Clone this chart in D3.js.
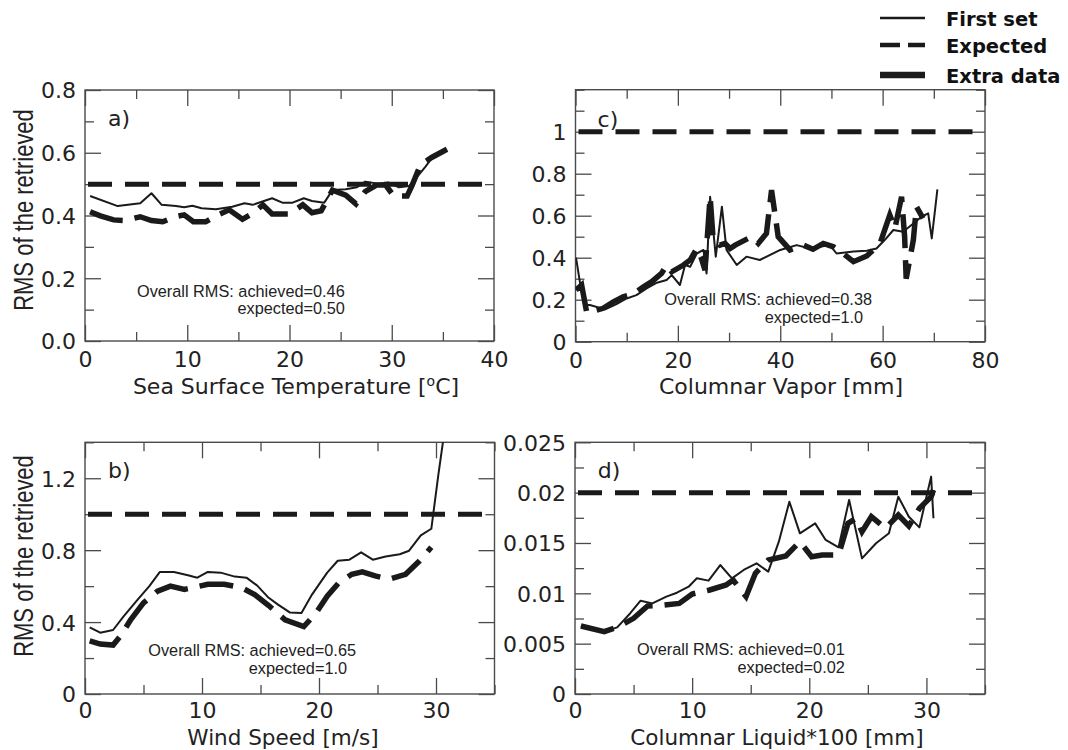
<!DOCTYPE html>
<html><head><meta charset="utf-8">
<script src="https://cdn.jsdelivr.net/npm/d3@7"></script>
<style>
body{margin:0;background:#fff;}
svg{display:block;}
</style></head><body>
<svg id="chart" width="1068" height="750"></svg>
<script>
// ---------------- DATA ----------------
const seriesNames = ["First set", "Expected", "Extra data"];
const panelLabels = ["a)", "b)", "c)", "d)"];
const xTitles = ["Sea Surface Temperature [", "Wind Speed [m/s]", "Columnar Vapor [mm]", "Columnar Liquid*100 [mm]"];
const yTitle = "RMS of the retrieved";
const achievedTexts = ["Overall RMS: achieved=0.46", "Overall RMS: achieved=0.65", "Overall RMS: achieved=0.38", "Overall RMS: achieved=0.01"];
const expectedTexts = ["expected=0.50", "expected=1.0", "expected=1.0", "expected=0.02"];
const expectedLevels = [0.5, 1.0, 1.0, 0.02];

// tick values / labels
const aXTicks = [0, 10, 20, 30, 40], aXMinor = [5, 15, 25, 35];
const aYTicks = [0, 0.2, 0.4, 0.6, 0.8], aYMinor = [0.1, 0.3, 0.5, 0.7];
const aYLabels = ["0.0", "0.2", "0.4", "0.6", "0.8"];
const bXTicks = [0, 10, 20, 30], bXMinor = [5, 15, 25, 35];
const bYTicks = [0, 0.4, 0.8, 1.2], bYMinor = [0.2, 0.6, 1.0, 1.4];
const bYLabels = ["0", "0.4", "0.8", "1.2"];
const cXTicks = [0, 20, 40, 60, 80], cXMinor = [10, 30, 50, 70];
const cYTicks = [0, 0.2, 0.4, 0.6, 0.8, 1.0], cYMinor = [0.1, 0.3, 0.5, 0.7, 0.9, 1.1, 1.2];
const cYLabels = ["0", "0.2", "0.4", "0.6", "0.8", "1"];
const dXTicks = [0, 10, 20, 30], dXMinor = [5, 15, 25, 35];
const dYTicks = [0, 0.005, 0.01, 0.015, 0.02, 0.025], dYMinor = [0.0025, 0.0075, 0.0125, 0.0175, 0.0225];
const dYLabels = ["0", "0.005", "0.01", "0.015", "0.02", "0.025"];

// panel a: sea surface temperature
const aFirstX = [0.5,3.2,5.4,6.5,7.5,8.9,9.7,10.5,11.4,12.8,14.4,15.6,16.4,18.3,19.3,20.3,21.4,22.2,23.4,24.2,25.5,26.6,27.4,28.7,29.7,30.7,31.7,32.5,33.3,33.9,35.4];
const aFirstY = [0.462,0.430,0.439,0.471,0.434,0.430,0.426,0.431,0.423,0.420,0.428,0.439,0.434,0.455,0.441,0.441,0.455,0.446,0.441,0.481,0.484,0.490,0.508,0.501,0.505,0.490,0.494,0.524,0.556,0.582,0.611];
const aExtraX = [0.5,1.5,2.8,3.9,5.4,6.5,7.6,8.8,9.7,10.6,11.8,13.0,14.1,15.4,16.4,17.4,18.3,20.0,21.3,22.2,23.1,24.2,25.5,26.5,27.4,28.5,29.4,30.2,31.5,32.0,32.8,33.9,35.4];
const aExtraY = [0.412,0.399,0.386,0.384,0.396,0.384,0.380,0.396,0.402,0.380,0.380,0.402,0.418,0.388,0.407,0.434,0.405,0.405,0.434,0.409,0.415,0.481,0.465,0.437,0.476,0.497,0.497,0.462,0.462,0.497,0.561,0.585,0.611];

// panel b: wind speed
const bFirstX = [0.4,1.3,2.4,3.3,4.5,5.5,6.4,7.6,8.8,9.6,10.5,11.6,12.8,13.8,14.7,15.7,16.5,17.5,18.5,19.4,20.7,21.6,22.6,23.6,24.6,25.7,26.9,27.7,28.7,29.6,30.2,30.7];
const bFirstY = [0.371,0.341,0.356,0.432,0.525,0.600,0.679,0.679,0.660,0.647,0.679,0.675,0.653,0.647,0.604,0.535,0.497,0.454,0.450,0.553,0.675,0.741,0.747,0.788,0.747,0.765,0.777,0.797,0.882,0.919,1.219,1.45];
const bExtraX = [0.4,1.3,2.4,3.1,3.9,5.0,6.2,7.3,8.5,9.6,10.5,11.9,13.4,14.5,15.7,17.1,18.7,19.7,20.7,21.7,22.8,23.7,24.8,26.0,27.4,28.6,29.6];
const bExtraY = [0.296,0.278,0.272,0.328,0.413,0.507,0.572,0.600,0.582,0.597,0.610,0.610,0.591,0.553,0.492,0.413,0.375,0.446,0.544,0.619,0.666,0.679,0.657,0.638,0.666,0.741,0.816];

// panel c: columnar vapor
const cFirstX = [0.1,0.9,1.7,2.8,5.8,8.0,10.0,11.9,13.9,15.9,17.8,18.8,20.4,21.4,22.4,23.7,25.0,25.6,26.3,27.4,28.6,29.5,31.5,33.4,36.0,40.0,43.2,45.8,49.7,51.0,54.3,56.9,58.8,60.4,62.1,64.0,66.0,67.6,68.9,69.6,70.7];
const cFirstY = [0.40,0.278,0.175,0.175,0.154,0.179,0.206,0.222,0.254,0.281,0.294,0.317,0.270,0.365,0.357,0.42,0.437,0.325,0.69,0.405,0.643,0.437,0.365,0.405,0.389,0.437,0.46,0.444,0.46,0.42,0.429,0.433,0.444,0.484,0.532,0.524,0.563,0.595,0.611,0.492,0.725];
const cExtraX = [0.1,1.2,2.2,5.4,7.4,9.3,11.3,13.3,14.9,16.8,17.8,18.8,21.1,22.4,23.7,24.6,25.3,26.3,26.9,28.2,29.2,30.2,31.2,34.4,35.7,37.3,38.3,39.6,41.9,44.5,46.4,48.4,50.4,52.3,54.3,56.9,59.5,61.4,62.4,63.7,64.3,64.6,66.0,66.6,67.9];
const cExtraY = [0.246,0.27,0.138,0.159,0.19,0.214,0.227,0.262,0.286,0.325,0.365,0.333,0.365,0.389,0.444,0.397,0.341,0.69,0.484,0.46,0.468,0.444,0.46,0.5,0.468,0.516,0.722,0.5,0.437,0.46,0.44,0.468,0.452,0.42,0.381,0.408,0.468,0.603,0.54,0.69,0.5,0.30,0.484,0.643,0.587];

// panel d: columnar liquid
const dFirstX = [0.5,2.5,3.6,4.7,5.6,6.6,7.8,8.7,9.7,10.4,11.4,12.4,13.4,14.4,15.5,16.5,17.4,18.3,19.2,20.5,21.4,22.5,23.4,24.5,25.7,26.8,27.6,28.5,29.4,30.4,30.6];
const dFirstY = [0.00675,0.0062,0.00662,0.008,0.00927,0.009,0.00967,0.01006,0.01066,0.01149,0.01126,0.01281,0.01149,0.01232,0.01298,0.01215,0.01513,0.0191,0.01596,0.01695,0.0153,0.01457,0.01927,0.01347,0.01497,0.01596,0.0196,0.01761,0.01655,0.02159,0.01745];
const dExtraX = [0.5,2.5,3.6,5.0,6.2,7.6,8.9,10.0,11.5,12.9,13.5,14.6,15.4,16.5,18.0,19.2,20.2,21.1,22.5,23.3,24.0,24.5,25.3,26.5,27.6,28.5,29.4,30.4,30.6];
const dExtraY = [0.00675,0.0062,0.00662,0.00752,0.00874,0.00884,0.009,0.00993,0.01033,0.01083,0.01132,0.00967,0.01199,0.01331,0.01371,0.01513,0.01364,0.01381,0.01381,0.01695,0.01745,0.01612,0.01761,0.01645,0.01778,0.01669,0.01844,0.0196,0.02026];

// ---------------- LAYOUT ----------------
const FONT = "'DejaVu Sans', sans-serif";
const ANN_FONT = "'Liberation Sans', Arial, sans-serif";
const INK = "#1a1a1a";
const FRAME = "#4a4a4a";

const panels = [
  {id:"a", idx:0, left:85, right:494, top:90, bottom:341, xDomain:[0,40], yDomain:[0,0.8],
   xTicks:aXTicks, xMinor:aXMinor, yTicks:aYTicks, yMinor:aYMinor, yLabels:aYLabels,
   firstX:aFirstX, firstY:aFirstY, extraX:aExtraX, extraY:aExtraY,
   labelPos:[108,126], annPos:[137,296.7], titleX:296, titleY:394, titleSize:22, tickPad:10.4, yTitleY:210, superscript:true},
  {id:"b", idx:1, left:85, right:494.5, top:442.3, bottom:694, xDomain:[0,35], yDomain:[0,1.4],
   xTicks:bXTicks, xMinor:bXMinor, yTicks:bYTicks, yMinor:bYMinor, yLabels:bYLabels,
   firstX:bFirstX, firstY:bFirstY, extraX:bExtraX, extraY:bExtraY,
   labelPos:[108,478], annPos:[148.3,656], titleX:283, titleY:745, titleSize:21.5, tickPad:8.4, yTitleY:556},
  {id:"c", idx:2, left:575.5, right:985, top:89.7, bottom:341.7, xDomain:[0,80], yDomain:[0,1.2],
   xTicks:cXTicks, xMinor:cXMinor, yTicks:cYTicks, yMinor:cYMinor, yLabels:cYLabels,
   firstX:cFirstX, firstY:cFirstY, extraX:cExtraX, extraY:cExtraY,
   labelPos:[597.6,127], annPos:[664.3,305], titleX:781, titleY:394, titleSize:22, tickPad:10.4},
  {id:"d", idx:3, left:575, right:985, top:442.3, bottom:694, xDomain:[0,35], yDomain:[0,0.025],
   xTicks:dXTicks, xMinor:dXMinor, yTicks:dYTicks, yMinor:dYMinor, yLabels:dYLabels,
   firstX:dFirstX, firstY:dFirstY, extraX:dExtraX, extraY:dExtraY,
   labelPos:[597.8,478], annPos:[637,655], titleX:777, titleY:745, titleSize:21.5, tickPad:8.4}
];

const svg = d3.select("#chart");
const MAJOR = 16, MINOR = 9;

function styleAxis(sel){
  sel.select(".domain").remove();
  sel.selectAll("line").attr("stroke", FRAME).attr("stroke-width", 1.3);
  sel.selectAll("text").attr("font-family", FONT).attr("font-size", 22).attr("fill", "#222");
}

panels.forEach(p => {
  const x = d3.scaleLinear().domain(p.xDomain).range([p.left, p.right]);
  const y = d3.scaleLinear().domain(p.yDomain).range([p.bottom, p.top]);
  const g = svg.append("g").attr("class", "panel-" + p.id);

  const clipId = "clip-" + p.id;
  svg.append("clipPath").attr("id", clipId).append("rect")
    .attr("x", p.left).attr("y", p.top).attr("width", p.right - p.left).attr("height", p.bottom - p.top);

  // ticks: bottom (labelled), left (labelled), top, right
  g.append("g").attr("transform", `translate(0,${p.bottom})`)
    .call(d3.axisBottom(x).tickValues(p.xTicks).tickFormat(d => String(d)).tickSizeInner(-MAJOR).tickSizeOuter(0).tickPadding(p.tickPad))
    .call(styleAxis);
  g.append("g").attr("transform", `translate(0,${p.bottom})`)
    .call(d3.axisBottom(x).tickValues(p.xMinor).tickFormat("").tickSizeInner(-MINOR).tickSizeOuter(0))
    .call(styleAxis);
  g.append("g").attr("transform", `translate(0,${p.top})`)
    .call(d3.axisTop(x).tickValues(p.xTicks).tickFormat("").tickSizeInner(-MAJOR).tickSizeOuter(0))
    .call(styleAxis);
  g.append("g").attr("transform", `translate(0,${p.top})`)
    .call(d3.axisTop(x).tickValues(p.xMinor).tickFormat("").tickSizeInner(-MINOR).tickSizeOuter(0))
    .call(styleAxis);
  g.append("g").attr("transform", `translate(${p.left},0)`)
    .call(d3.axisLeft(y).tickValues(p.yTicks).tickFormat((d,i) => p.yLabels[i]).tickSizeInner(-MAJOR).tickSizeOuter(0).tickPadding(9))
    .call(styleAxis)
    .call(s => s.selectAll("text").attr("dy", "0.36em"));
  g.append("g").attr("transform", `translate(${p.left},0)`)
    .call(d3.axisLeft(y).tickValues(p.yMinor).tickFormat("").tickSizeInner(-MINOR).tickSizeOuter(0))
    .call(styleAxis);
  g.append("g").attr("transform", `translate(${p.right},0)`)
    .call(d3.axisRight(y).tickValues(p.yTicks).tickFormat("").tickSizeInner(-MAJOR).tickSizeOuter(0))
    .call(styleAxis);
  g.append("g").attr("transform", `translate(${p.right},0)`)
    .call(d3.axisRight(y).tickValues(p.yMinor).tickFormat("").tickSizeInner(-MINOR).tickSizeOuter(0))
    .call(styleAxis);

  // frame
  g.append("rect").attr("x", p.left).attr("y", p.top)
    .attr("width", p.right - p.left).attr("height", p.bottom - p.top)
    .attr("fill", "none").attr("stroke", FRAME).attr("stroke-width", 1.4);

  const line = d3.line().x(d => x(d[0])).y(d => y(d[1]));
  const lg = g.append("g").attr("clip-path", `url(#${clipId})`);

  // expected (dashed horizontal)
  lg.append("path")
    .attr("d", line([[p.xDomain[0], expectedLevels[p.idx]], [p.xDomain[1], expectedLevels[p.idx]]]))
    .attr("fill", "none").attr("stroke", INK).attr("stroke-width", 5)
    .attr("stroke-dasharray", "24,13").attr("stroke-dashoffset", -3);

  // extra data (thick broken)
  lg.append("path")
    .attr("d", line(d3.zip(p.extraX, p.extraY)))
    .attr("fill", "none").attr("stroke", INK).attr("stroke-width", 5.5)
    .attr("stroke-linejoin", "miter").attr("stroke-dasharray", "34,12");

  // first set (thin solid)
  lg.append("path")
    .attr("d", line(d3.zip(p.firstX, p.firstY)))
    .attr("fill", "none").attr("stroke", INK).attr("stroke-width", 2)
    .attr("stroke-linejoin", "round");

  // panel label
  g.append("text").attr("x", p.labelPos[0]).attr("y", p.labelPos[1])
    .attr("font-family", FONT).attr("font-size", 22).attr("fill", "#222")
    .text(panelLabels[p.idx]);

  // annotation
  g.append("text").attr("x", p.annPos[0]).attr("y", p.annPos[1])
    .attr("font-family", ANN_FONT).attr("font-size", 16.3).attr("fill", "#222")
    .text(achievedTexts[p.idx]);
  g.append("text").attr("x", p.annPos[0] + 100.5).attr("y", p.annPos[1] + 17.6)
    .attr("font-family", ANN_FONT).attr("font-size", 16.3).attr("fill", "#222")
    .text(expectedTexts[p.idx]);

  // x title
  const t = g.append("text").attr("x", p.titleX).attr("y", p.titleY)
    .attr("text-anchor", "middle").attr("font-family", FONT).attr("font-size", p.titleSize).attr("fill", "#222")
    .text(xTitles[p.idx]);
  if (p.superscript) {
    t.append("tspan").attr("font-size", 14).attr("dy", -8).text("o");
    t.append("tspan").attr("dy", 8).text("C]");
  }

  // y title
  if (p.yTitleY !== undefined) {
    svg.append("text")
      .attr("transform", `translate(33,${p.yTitleY}) scale(1.25,1) rotate(-90)`)
      .attr("text-anchor", "middle").attr("font-family", ANN_FONT).attr("font-size", 22).attr("fill", "#222")
      .text(yTitle);
  }
});

// ---------------- LEGEND ----------------
const legend = svg.append("g").attr("class", "legend");
const legendY = [18, 45, 75];
const legendStyles = [
  {w: 2.6, dash: null},
  {w: 4.5, dash: "20,8"},
  {w: 6.5, dash: null}
];
seriesNames.forEach((name, i) => {
  legend.append("line").attr("x1", 880).attr("x2", 925).attr("y1", legendY[i]).attr("y2", legendY[i])
    .attr("stroke", INK).attr("stroke-width", legendStyles[i].w)
    .attr("stroke-dasharray", legendStyles[i].dash);
  legend.append("text").attr("x", 946).attr("y", legendY[i] + 8.3)
    .attr("font-family", FONT).attr("font-weight", "bold").attr("font-size", 19.5).attr("fill", "#111")
    .text(name);
});
</script>
</body></html>
